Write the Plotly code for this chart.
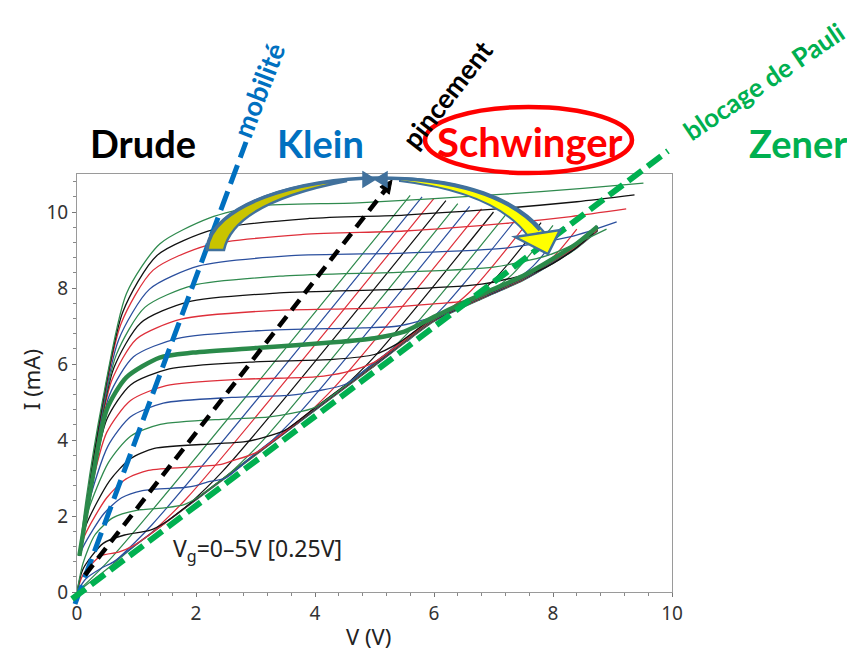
import plotly.graph_objects as go

# ---------------- data ----------------
vg_label = "V<sub>g</sub>=0–5V [0.25V]"
x_ticks = [0, 2, 4, 6, 8, 10]
y_ticks = [0, 2, 4, 6, 8, 10]

green, blue, red, black = "#2f8a4e", "#2b4f9e", "#de2f3a", "#111111"
plateau_colors = [green, blue, red, black] * 5 + [green]   # Vg index 0..20
thick_index = 12

plateau_V = [
    [0, 0.5, 1, 2, 3, 4, 5, 6, 6.5, 7, 7.5, 8, 8.4, 8.75],
    [0, 0.15, 0.4, 0.6, 1, 2, 3, 4, 5, 6, 6.5, 7, 7.5, 8, 8.4, 8.75],
    [0, 0.1, 0.4, 0.7, 0.95, 1.3, 2, 3, 4, 5, 6, 6.5, 7, 7.5, 8, 8.4, 8.75],
    [0, 0.1, 0.44, 0.8, 1.22, 1.5, 2, 3, 4, 5, 6, 6.5, 7, 7.5, 8, 8.4, 8.75],
    [0, 0.1, 0.3, 0.6, 1.0, 1.5, 1.8, 2.0, 3, 4, 5, 6, 6.5, 7, 7.5, 8, 8.4, 8.75],
    [0.04, 0.12, 0.45, 0.75, 1.1, 1.8, 2.0, 2.2, 2.5, 3, 4, 5, 6, 6.5, 7, 7.5, 8, 8.4, 8.75],
    [0.04, 0.13, 0.5, 0.82, 1.2, 2.0, 2.4, 2.6, 3, 4, 5, 6, 6.5, 7, 7.5, 8, 8.4, 8.75],
    [0.04, 0.15, 0.55, 0.9, 1.3, 2.3, 2.8, 3.1, 3.5, 4, 5, 6, 6.5, 7, 7.5, 8, 8.4, 8.75],
    [0.04, 0.17, 0.53, 0.9, 1.4, 2.5, 3.2, 3.6, 4, 5, 6, 6.5, 7, 7.5, 8, 8.4, 8.75],
    [0.04, 0.19, 0.52, 0.9, 1.45, 2.6, 3.6, 4.0, 4.5, 5, 6, 6.5, 7, 7.5, 8, 8.4, 8.75],
    [0.04, 0.21, 0.5, 0.9, 1.5, 2.8, 4.0, 4.5, 5, 6, 6.5, 7, 7.5, 8, 8.4, 8.75],
    [0.04, 0.23, 0.5, 0.9, 1.55, 2.9, 4.3, 5.0, 5.4, 6, 6.5, 7, 7.5, 8, 8.4, 8.75],
    [0.04, 0.25, 0.5, 0.83, 1.39, 1.95, 3.07, 4.31, 5.0, 5.5, 6, 6.5, 7, 7.5, 8, 8.4, 8.75],
    [0.04, 0.26, 0.54, 0.95, 1.68, 3.1, 4.8, 5.4, 6, 6.5, 7, 7.5, 8, 8.4, 8.75],
    [0.04, 0.28, 0.58, 1.0, 1.75, 3.2, 5.0, 6.0, 6.6, 7, 7.5, 8, 8.4, 8.75],
    [0.04, 0.29, 0.62, 1.07, 1.85, 3.4, 5.5, 6.8, 7.78, 8.3, 8.68],
    [0.04, 0.31, 0.66, 1.14, 1.95, 3.5, 5.5, 7.0, 7.9, 8.5, 8.9],
    [0.04, 0.33, 0.7, 1.22, 2.05, 3.6, 5.5, 7.2, 8.3, 9.07],
    [0.04, 0.35, 0.74, 1.28, 2.2, 3.8, 5.5, 7.2, 8.3, 9.23],
    [0.04, 0.37, 0.77, 1.34, 2.3, 3.9, 5.5, 7.2, 8.4, 9.37],
    [0.04, 0.15, 0.43, 0.83, 1.39, 2.22, 3.05, 4.72, 7.18, 8.5, 9.52],
]
plateau_I = [
    [0, 0.6, 1.25, 2.42, 3.6, 4.78, 5.95, 7.12, 7.5, 7.85, 8.2, 8.65, 9.05, 9.5],
    [0, 0.35, 0.62, 0.78, 1.26, 2.43, 3.61, 4.79, 5.96, 7.13, 7.51, 7.86, 8.21, 8.66, 9.06, 9.51],
    [0, 0.45, 0.95, 1.05, 1.22, 1.6, 2.44, 3.62, 4.8, 5.97, 7.14, 7.52, 7.87, 8.22, 8.67, 9.07, 9.52],
    [0, 0.6, 1.28, 1.5, 1.62, 1.85, 2.45, 3.63, 4.81, 5.98, 7.15, 7.53, 7.88, 8.23, 8.68, 9.08, 9.53],
    [0, 0.75, 1.5, 1.95, 2.15, 2.22, 2.3, 2.46, 3.64, 4.82, 5.99, 7.16, 7.54, 7.89, 8.24, 8.69, 9.09, 9.54],
    [0.95, 1.24, 2.06, 2.48, 2.67, 2.75, 2.8, 2.9, 3.0, 3.65, 4.83, 6.0, 7.17, 7.55, 7.9, 8.25, 8.7, 9.1, 9.55],
    [0.95, 1.49, 2.48, 2.97, 3.2, 3.3, 3.35, 3.45, 3.66, 4.84, 6.01, 7.18, 7.56, 7.91, 8.26, 8.71, 9.11, 9.56],
    [0.95, 1.75, 2.93, 3.51, 3.78, 3.9, 3.95, 4.05, 4.26, 4.85, 6.02, 7.19, 7.57, 7.92, 8.27, 8.72, 9.12, 9.57],
    [0.95, 2.05, 3.41, 4.1, 4.41, 4.55, 4.6, 4.7, 4.86, 6.03, 7.2, 7.58, 7.93, 8.28, 8.73, 9.13, 9.58],
    [0.95, 2.3, 3.84, 4.61, 4.97, 5.12, 5.18, 5.28, 5.46, 6.04, 7.21, 7.59, 7.94, 8.29, 8.74, 9.14, 9.59],
    [0.95, 2.52, 4.2, 5.04, 5.43, 5.6, 5.66, 5.78, 6.05, 7.22, 7.6, 7.95, 8.3, 8.75, 9.15, 9.6],
    [0.95, 2.72, 4.54, 5.45, 5.87, 6.05, 6.12, 6.25, 6.55, 7.23, 7.61, 7.96, 8.31, 8.76, 9.16, 9.61],
    [0.95, 2.9, 4.8, 5.65, 6.17, 6.3, 6.43, 6.57, 6.68, 6.85, 7.24, 7.62, 7.97, 8.32, 8.77, 9.17, 9.62],
    [0.95, 3.1, 5.16, 6.19, 6.67, 6.88, 6.95, 7.0, 7.25, 7.63, 7.98, 8.33, 8.78, 9.18, 9.63],
    [0.95, 3.33, 5.55, 6.66, 7.18, 7.4, 7.47, 7.58, 7.68, 7.95, 8.3, 8.72, 9.1, 9.55],
    [0.95, 3.54, 5.9, 7.08, 7.63, 7.87, 7.97, 8.1, 8.47, 8.95, 9.45],
    [0.95, 3.74, 6.24, 7.49, 8.07, 8.32, 8.42, 8.55, 8.85, 9.25, 9.55],
    [0.95, 3.98, 6.64, 7.97, 8.58, 8.85, 8.92, 9.05, 9.35, 9.74],
    [0.95, 4.23, 7.06, 8.47, 9.13, 9.41, 9.5, 9.7, 9.88, 10.08],
    [0.95, 4.42, 7.37, 8.85, 9.54, 9.83, 9.92, 10.1, 10.27, 10.45],
    [0.95, 2.4, 5.04, 7.85, 9.16, 9.84, 10.16, 10.24, 10.47, 10.62, 10.76],
]

diag_colors = [green, blue, red, black] * 4
diag_V = [
    [0.0, 0.6, 5.6], [0.61, 1.26, 5.8], [1.19, 1.84, 6.0], [1.8, 2.45, 6.2],
    [2.44, 3.09, 6.4], [3.07, 3.72, 6.6], [3.69, 4.34, 6.8], [4.33, 4.98, 7.0],
    [4.97, 5.62, 7.2], [5.55, 6.2, 7.4], [6.0, 6.63, 7.6], [6.4, 7.0, 7.8],
    [6.75, 7.33, 8.0], [7.15, 7.66, 8.2], [7.6, 8.05, 8.4],
]
diag_I = [
    [0.0, 0.94, 10.44], [0.76, 1.77, 10.4], [1.47, 2.46, 10.36], [2.19, 3.18, 10.3],
    [2.94, 3.93, 10.22], [3.68, 4.68, 10.15], [4.41, 5.41, 10.08], [5.17, 6.16, 10.0],
    [5.91, 6.92, 9.92], [6.59, 7.57, 9.85], [7.12, 7.94, 9.78], [7.42, 8.2, 9.72],
    [7.67, 8.38, 9.65], [7.95, 8.57, 9.6], [8.29, 8.89, 9.55],
]

# ---------------- figure ----------------
# the page body adds an 8px margin, so the figure is 8px smaller and all
# reference-pixel positions below are shifted by that amount
OFF = 8
W, H = 855 - OFF, 656 - OFF
ML, MR, MT, MB = 77 - OFF, 183, 174 - OFF, 64
PW, PH = W - ML - MR, H - MT - MB


def px(x):
    return (x - OFF - ML) / PW


def py(y):
    return (H - MB - (y - OFF)) / PH


def path(points, close=False):
    s = ""
    for p in points:
        if isinstance(p, str):
            s += " " + p
            continue
        s += " %.5f,%.5f" % (px(p[0]), py(p[1]))
    if close:
        s += " Z"
    return s.strip()


fig = go.Figure()

for j in range(len(diag_V)):
    fig.add_trace(go.Scatter(x=diag_V[j], y=diag_I[j], mode="lines",
                             line=dict(color=diag_colors[j], width=1.2, shape="spline", smoothing=0.8),
                             hoverinfo="skip", showlegend=False))

for k in range(len(plateau_V)):
    if k == thick_index:
        continue
    fig.add_trace(go.Scatter(x=plateau_V[k], y=plateau_I[k], mode="lines",
                             line=dict(color=plateau_colors[k], width=1.3, shape="spline", smoothing=0.7),
                             hoverinfo="skip", showlegend=False))
fig.add_trace(go.Scatter(x=plateau_V[thick_index], y=plateau_I[thick_index], mode="lines",
                         line=dict(color="#2a8a4a", width=4.5, shape="spline", smoothing=0.7),
                         hoverinfo="skip", showlegend=False))

shapes = []
# dashed guide lines
shapes.append(dict(type="line", xref="paper", yref="paper", x0=px(75), y0=py(604), x1=px(246), y1=py(142),
                   line=dict(color="#0070c0", width=5, dash="20px,8px")))
shapes.append(dict(type="line", xref="paper", yref="paper", x0=px(85), y0=py(575), x1=px(386), y1=py(189),
                   line=dict(color="#000000", width=4.5, dash="13px,8px")))
shapes.append(dict(type="path", xref="paper", yref="paper",
                   path="M " + path([(392, 180), "L", (389.3, 194.2), "L", (379.9, 186.8)], close=True),
                   fillcolor="#000000", line=dict(color="#000000", width=1)))
shapes.append(dict(type="line", xref="paper", yref="paper", x0=px(72), y0=py(599), x1=px(668), y1=py(151),
                   line=dict(color="#00b050", width=6, dash="17px,7px")))

# curved arrow (left wedge, right band, arc, arrowhead, bow-tie)
outline = "#41719c"
shapes.append(dict(type="path", xref="paper", yref="paper",
                   path="M " + path([(207, 250), "C", (209, 208), (290, 182), (347, 181),
                                     "C", (290, 192), (232, 212), (224, 250)], close=True),
                   fillcolor="#c9c400", line=dict(color=outline, width=2.5)))
shapes.append(dict(type="path", xref="paper", yref="paper",
                   path="M " + path([(400, 178), "C", (460, 180), (515, 196), (544, 232),
                                     "L", (528, 236), "C", (505, 205), (460, 188), (400, 181)], close=True),
                   fillcolor="#ffff00", line=dict(color=outline, width=2)))
shapes.append(dict(type="path", xref="paper", yref="paper",
                   path="M " + path([(207, 250), "C", (210, 205), (300, 178), (378, 178),
                                     "C", (450, 178), (510, 195), (540, 230)]),
                   line=dict(color=outline, width=3.5)))
shapes.append(dict(type="path", xref="paper", yref="paper",
                   path="M " + path([(515, 237), "L", (560, 230), "L", (548, 254)], close=True),
                   fillcolor="#ffff00", line=dict(color=outline, width=2.5)))
shapes.append(dict(type="path", xref="paper", yref="paper",
                   path="M " + path([(363, 172), "L", (387, 187), "L", (387, 172), "L", (363, 187)], close=True),
                   fillcolor=outline, line=dict(color=outline, width=1.5)))
# ellipse around Schwinger
shapes.append(dict(type="circle", xref="paper", yref="paper", x0=px(425), x1=px(632), y0=py(173), y1=py(107),
                   line=dict(color="#ff0000", width=4.5)))

ann = []


def label(text, x, y, size, color, angle=0, bold=True, family="Lato"):
    ann.append(dict(text=("<b>%s</b>" % text) if bold else text, x=px(x), y=py(y), xref="paper", yref="paper",
                    showarrow=False, textangle=angle, xanchor="center", yanchor="middle",
                    font=dict(family=family, size=size, color=color)))


label("Drude", 143, 143, 38, "#000000")
label("Klein", 320, 143, 38, "#0070c0")
label("Schwinger", 530, 142, 40, "#ff0000")
label("Zener", 798, 143, 38, "#00b050")
label("mobilité", 258, 90, 27, "#0070c0", angle=-69)
label("pincement", 447, 95, 27, "#000000", angle=-52)
label("blocage de Pauli", 764, 81, 26, "#00b050", angle=-34)
label(vg_label, 258, 549, 23, "#222222", bold=False, family="Noto Sans")
label("V (V)", 368, 636, 22, "#222222", bold=False, family="Noto Sans")
label("I (mA)", 31, 380, 22, "#222222", angle=-90, bold=False, family="Noto Sans")

axis_common = dict(showgrid=False, zeroline=False, showline=True, mirror=True, linecolor="#9a9a9a", linewidth=1,
                   ticks="outside", ticklen=4, tickcolor="#777777",
                   tickfont=dict(family="Noto Sans", size=19, color="#333333"),
                   minor=dict(dtick=0.4, ticks="outside", ticklen=3, tickcolor="#888888"))

fig.update_layout(
    width=W, height=H, margin=dict(l=ML, r=MR, t=MT, b=MB),
    paper_bgcolor="white", plot_bgcolor="white", showlegend=False,
    xaxis=dict(range=[0, 10], tickvals=x_ticks, **axis_common),
    yaxis=dict(range=[0, 11], tickvals=y_ticks, **axis_common),
    shapes=shapes, annotations=ann,
)

fig.write_html("out.html")
